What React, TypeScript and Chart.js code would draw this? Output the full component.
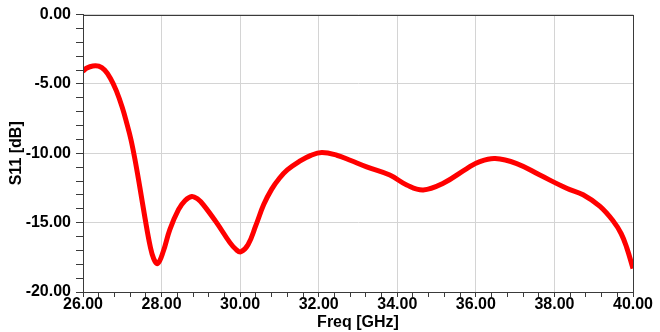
import React, { useEffect, useRef } from 'react';
import { Chart, registerables } from 'chart.js';

Chart.register(...registerables);

// Frequency (GHz) samples
const freqGHz = [
  26.0, 26.1, 26.25, 26.4, 26.55, 26.7, 26.85, 27.0, 27.12, 27.22, 27.32, 27.45,
  27.58, 27.71, 27.8, 27.9, 28.04, 28.21, 28.43, 28.6, 28.77, 28.92, 29.06, 29.4,
  29.74, 29.9, 30.02, 30.2, 30.4, 30.6, 30.8, 31.0, 31.2, 31.5, 31.8, 32.08,
  32.46, 32.8, 33.22, 33.81, 34.24, 34.66, 35.17, 35.77, 36.1, 36.49, 37.04, 37.63,
  38.31, 38.73, 39.16, 39.5, 39.7, 39.84, 40.0,
];

// S11 (dB) values at those frequencies
const s11dB = [
  -4.08, -3.85, -3.7, -3.72, -4.0, -4.6, -5.5, -6.7, -7.9, -9.0, -10.4, -12.5,
  -14.7, -16.7, -17.6, -17.95, -17.1, -15.5, -14.06, -13.4, -13.11, -13.3, -13.7, -15.0,
  -16.44, -16.95, -17.1, -16.6, -15.2, -13.7, -12.6, -11.8, -11.2, -10.6, -10.15, -9.95,
  -10.14, -10.5, -10.98, -11.57, -12.28, -12.64, -12.16, -11.1, -10.6, -10.38, -10.74, -11.57,
  -12.52, -12.99, -13.83, -14.9, -15.8, -16.8, -18.3,
];

const xMin = 26;
const xMax = 40;
const xMinorStep = 0.4;
const xMajorStep = 2;
const yMin = -20;
const yMax = 0;
const yMinorStep = 1;
const yMajorStep = 5;

const xTitle = 'Freq [GHz]';
const yTitle = 'S11 [dB]';

const isMultiple = (v: number, step: number) =>
  Math.abs(v / step - Math.round(v / step)) < 1e-6;

const FONT = "'Liberation Sans', Arial, sans-serif";

const framePlugin = {
  id: 'frame',
  afterDraw(chart: any) {
    const { ctx, chartArea } = chart;
    ctx.save();
    ctx.strokeStyle = '#3a3a3a';
    ctx.lineWidth = 1;
    ctx.strokeRect(
      Math.round(chartArea.left) + 0.5,
      Math.round(chartArea.top) + 0.5,
      Math.round(chartArea.right - chartArea.left),
      Math.round(chartArea.bottom - chartArea.top)
    );
    ctx.restore();
  },
};

export default function App() {
  const canvasRef = useRef<HTMLCanvasElement | null>(null);

  useEffect(() => {
    if (!canvasRef.current) return;
    const points = freqGHz.map((f, i) => ({ x: f, y: s11dB[i] }));
    const chart = new Chart(canvasRef.current, {
      type: 'line',
      data: {
        datasets: [
          {
            data: points,
            borderColor: '#ff0000',
            backgroundColor: '#ff0000',
            borderWidth: 5,
            pointRadius: 0,
            tension: 0.4,
            fill: false,
          },
        ],
      },
      options: {
        animation: false,
        responsive: false,
        maintainAspectRatio: false,
        layout: { padding: { top: 11, right: 27, left: 0, bottom: 0 } },
        plugins: { legend: { display: false }, tooltip: { enabled: false } },
        scales: {
          x: {
            type: 'linear',
            min: xMin,
            max: xMax,
            afterFit: (scale: any) => {
              scale.height = 40;
            },
            border: { display: true, color: '#3a3a3a', width: 1 },
            grid: {
              color: (c: any) =>
                c.tick && isMultiple(c.tick.value, xMajorStep) ? '#d4d4d4' : 'rgba(0,0,0,0)',
              tickColor: '#3a3a3a',
              tickLength: 5,
              lineWidth: 1,
            },
            ticks: {
              stepSize: xMinorStep,
              autoSkip: false,
              maxRotation: 0,
              minRotation: 0,
              padding: -2,
              color: '#000',
              font: { family: FONT, size: 16, weight: 'bold' },
              callback: (v: any) => {
                const n = Number(v);
                return isMultiple(n, xMajorStep) ? n.toFixed(2) : '';
              },
            },
            title: {
              display: true,
              text: xTitle,
              color: '#000',
              font: { family: FONT, size: 16, weight: 'bold' },
              padding: { top: 0, bottom: 0 },
            },
          },
          y: {
            type: 'linear',
            min: yMin,
            max: yMax,
            afterFit: (scale: any) => {
              scale.width = 83;
            },
            border: { display: true, color: '#3a3a3a', width: 1 },
            grid: {
              color: (c: any) =>
                c.tick && isMultiple(c.tick.value, yMajorStep) ? '#d4d4d4' : 'rgba(0,0,0,0)',
              tickColor: '#3a3a3a',
              tickLength: 7,
              lineWidth: 1,
            },
            ticks: {
              stepSize: yMinorStep,
              autoSkip: false,
              padding: 5,
              color: '#000',
              font: { family: FONT, size: 16, weight: 'bold' },
              callback: (v: any) => {
                const n = Number(v);
                return isMultiple(n, yMajorStep) ? (n === 0 ? 0 : n).toFixed(2) : '';
              },
            },
            title: {
              display: true,
              text: yTitle,
              color: '#000',
              font: { family: FONT, size: 16, weight: 'bold' },
              padding: { top: 7, bottom: 0 },
            },
          },
        },
      },
      plugins: [framePlugin],
    } as any);
    return () => chart.destroy();
  }, []);

  return (
    <div style={{ position: 'fixed', left: 0, top: 0, width: 660, height: 332, background: '#fff' }}>
      <canvas ref={canvasRef} width={660} height={332} style={{ width: 660, height: 332 }} />
    </div>
  );
}
